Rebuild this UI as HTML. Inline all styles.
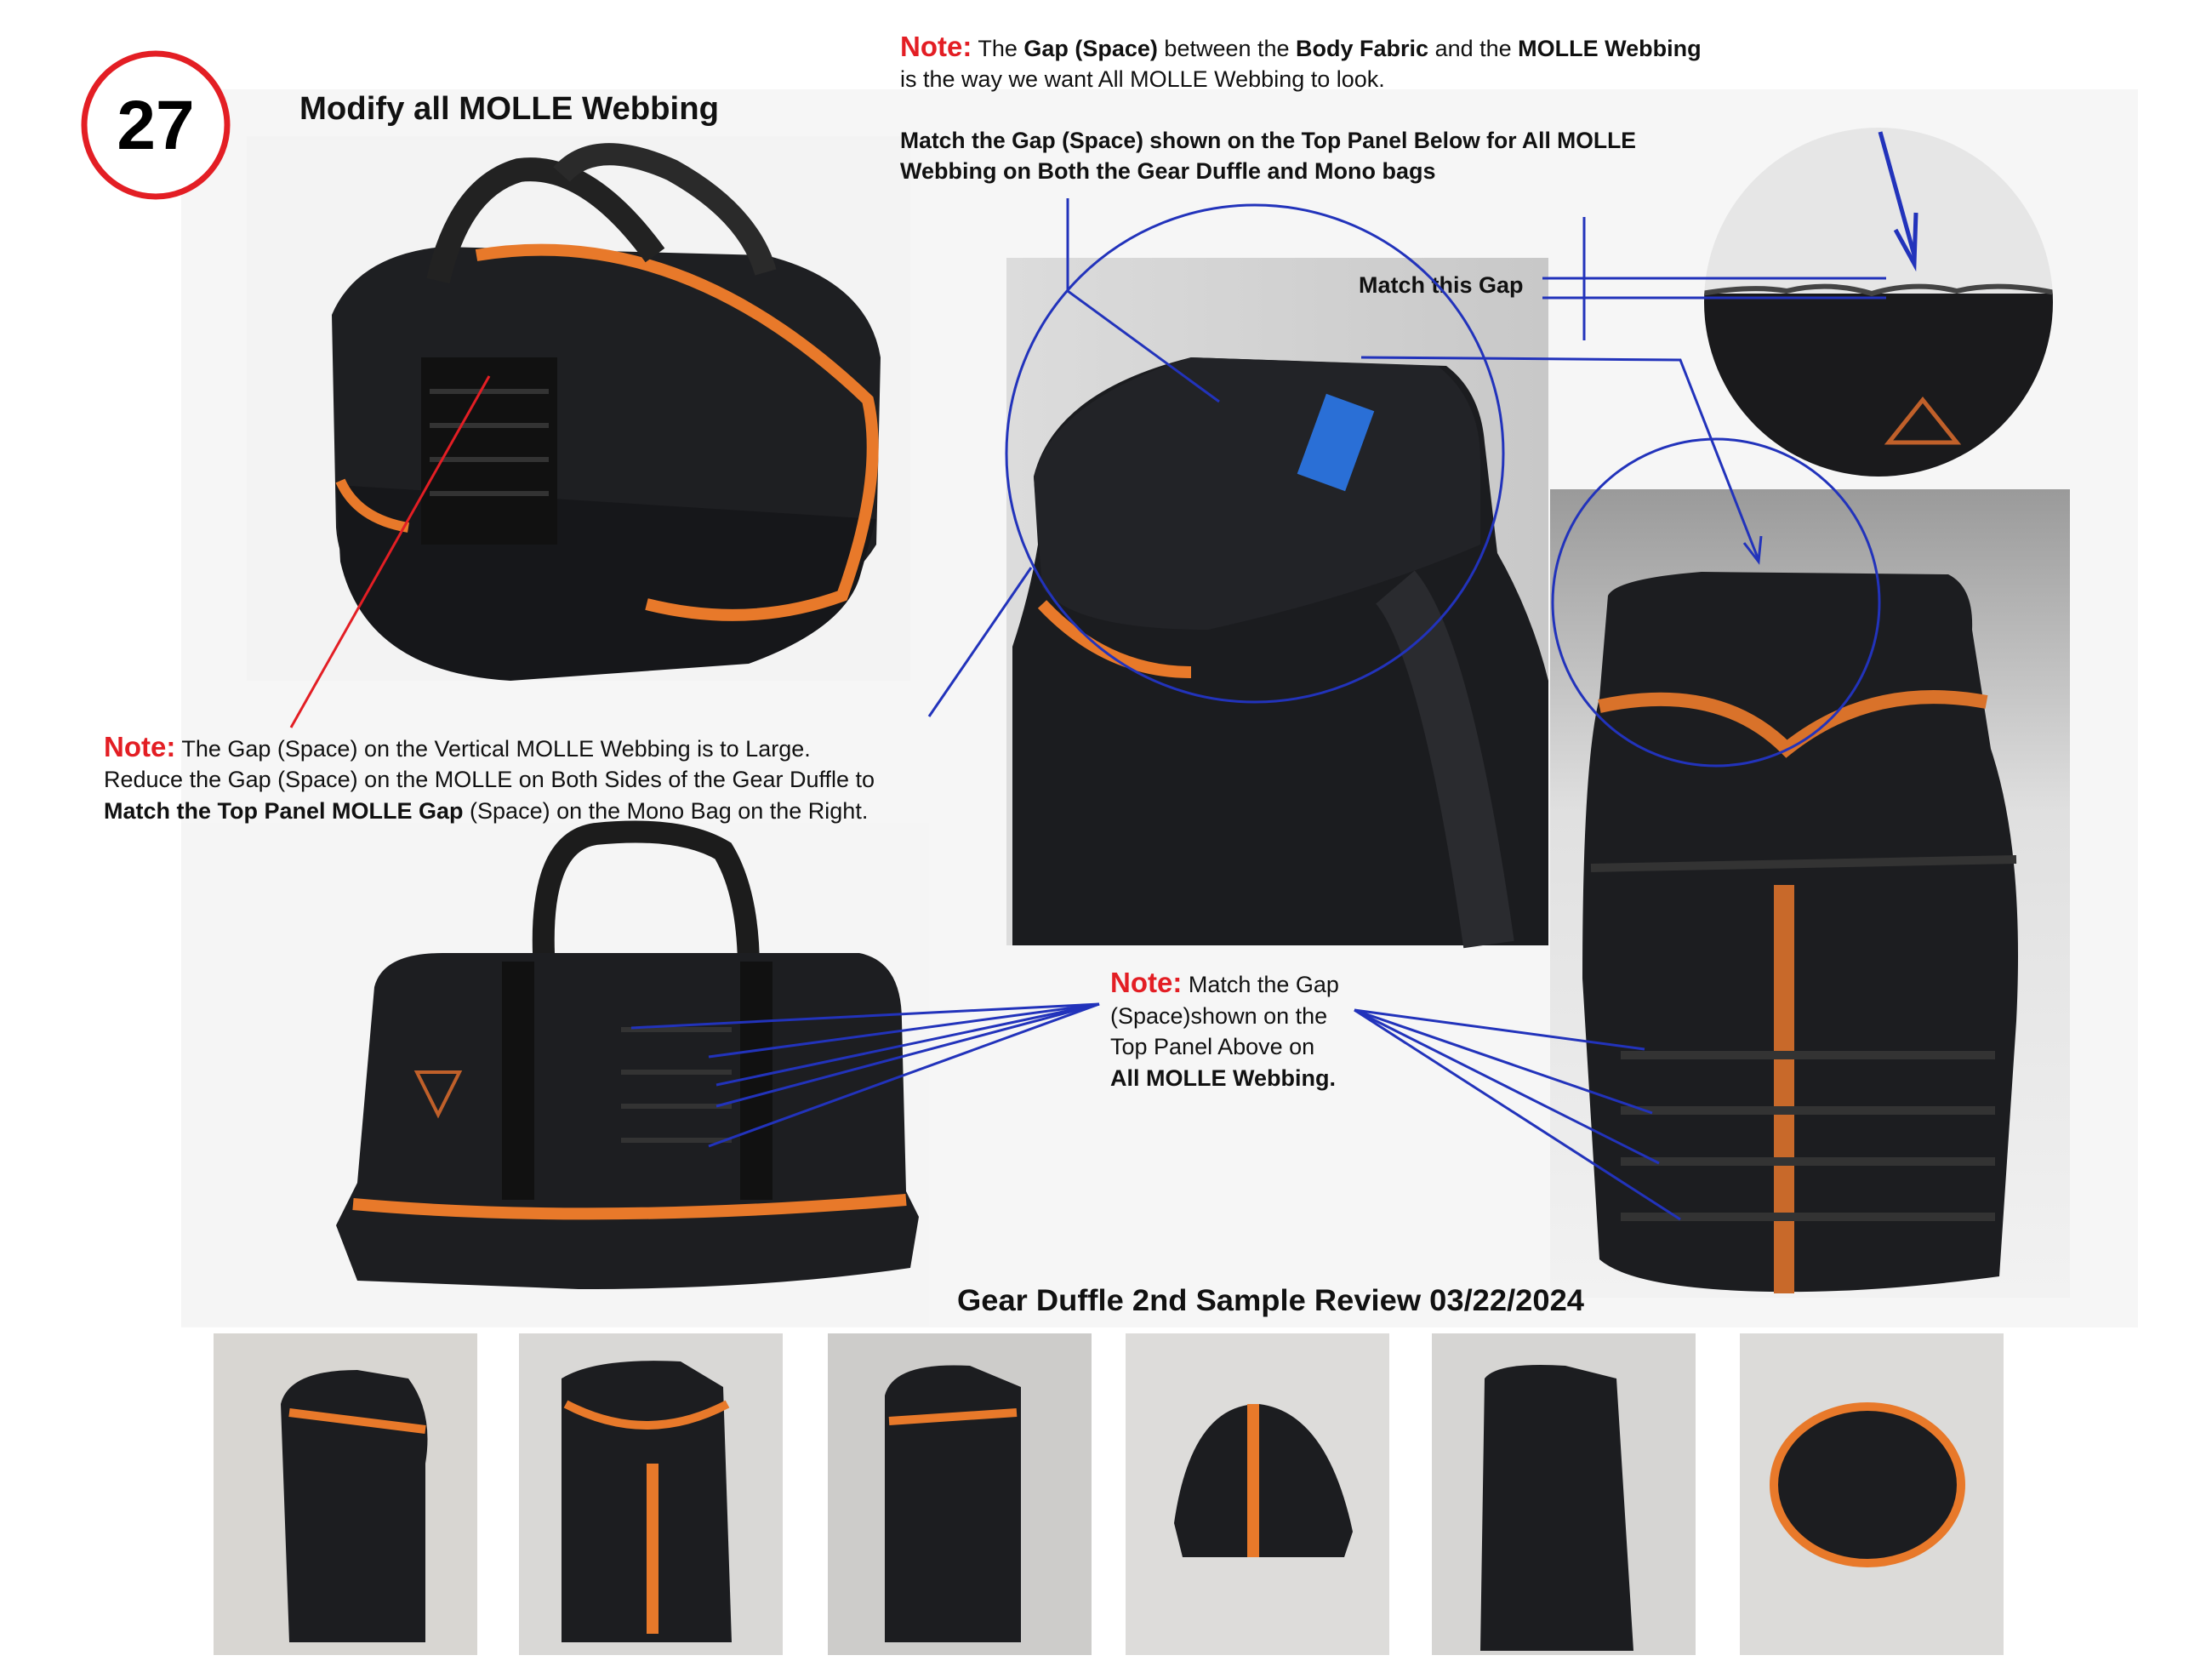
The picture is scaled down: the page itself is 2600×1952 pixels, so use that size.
<!DOCTYPE html>
<html><head><meta charset="utf-8"><style>
html,body{margin:0;padding:0;background:#fff}
svg{display:block}
text{font-family:"Liberation Sans",sans-serif}
</style></head><body>
<svg width="2600" height="1952" viewBox="0 0 2600 1952" xmlns="http://www.w3.org/2000/svg">
<defs>
<linearGradient id="bg2" x1="0" y1="0" x2="0" y2="1"><stop offset="0" stop-color="#9a9a9a"/><stop offset=".4" stop-color="#e0e0e0"/><stop offset="1" stop-color="#f2f2f2"/></linearGradient>
<linearGradient id="bg3" x1="0" y1="0" x2="1" y2="0"><stop offset="0" stop-color="#dcdcdc"/><stop offset="1" stop-color="#c8c8c8"/></linearGradient>
</defs>
<rect width="2600" height="1952" fill="#fff"/>
<rect x="213" y="105" width="2300" height="1455" fill="#f6f6f6"/>
<!-- top-left duffle -->
<rect x="290" y="160" width="780" height="640" fill="#f3f3f3"/>
<path d="M390 370 Q420 300 520 290 L900 300 Q1020 330 1035 420 L1030 640 Q980 720 860 730 L470 720 Q400 690 395 620 Z" fill="#1e1f22"/>
<path d="M395 570 L400 660 Q430 790 600 800 L880 780 Q990 740 1010 680 L1030 610" fill="#16171a"/>
<path d="M560 300 Q800 260 1020 470 Q1040 560 990 700 Q880 740 760 710" fill="none" stroke="#e8792a" stroke-width="14"/>
<path d="M400 565 Q420 610 480 620" fill="none" stroke="#e8792a" stroke-width="12"/>
<path d="M515 330 Q540 220 610 200 Q690 190 770 300" fill="none" stroke="#222" stroke-width="28"/>
<path d="M660 205 Q700 160 790 200 Q880 250 900 320" fill="none" stroke="#2a2a2a" stroke-width="26"/>
<rect x="495" y="420" width="160" height="220" fill="#111"/>
<g stroke="#333" stroke-width="6"><line x1="505" y1="460" x2="645" y2="460"/><line x1="505" y1="500" x2="645" y2="500"/><line x1="505" y1="540" x2="645" y2="540"/><line x1="505" y1="580" x2="645" y2="580"/></g>
<!-- middle photo -->
<rect x="1183" y="303" width="637" height="808" fill="url(#bg3)"/>
<path d="M1215 560 Q1240 460 1400 420 L1700 430 Q1740 460 1745 520 L1760 650 Q1800 720 1820 800 L1820 1111 L1190 1111 L1190 760 Q1210 700 1220 640 Z" fill="#1b1c1f"/>
<path d="M1215 560 Q1240 470 1400 420 L1690 430 Q1740 470 1740 540 L1740 640 Q1600 700 1420 740 Q1260 740 1225 690 Z" fill="#222327"/>
<path d="M1225 710 Q1300 790 1400 790" fill="none" stroke="#e8792a" stroke-width="14"/>
<rect x="1540" y="470" width="60" height="100" fill="#2a6fd6" transform="rotate(20 1570 520)"/>
<path d="M1640 690 Q1700 760 1750 1110" stroke="#2a2b2f" stroke-width="60" fill="none"/>
<!-- right backpack -->
<rect x="1822" y="575" width="611" height="950" fill="url(#bg2)"/>
<path d="M1890 700 Q1900 680 2000 672 L2290 675 Q2320 690 2318 740 L2340 880 Q2380 1000 2370 1200 L2350 1500 Q2200 1520 2080 1518 Q1920 1515 1880 1480 L1860 1150 Q1860 900 1880 820 Z" fill="#1c1d20"/>
<path d="M1880 830 Q2020 800 2100 880 Q2200 800 2335 825" fill="none" stroke="#d9722a" stroke-width="16"/>
<rect x="2085" y="1040" width="24" height="480" fill="#c8692a"/>
<g stroke="#333" stroke-width="10"><line x1="1905" y1="1240" x2="2345" y2="1240"/><line x1="1905" y1="1305" x2="2345" y2="1305"/><line x1="1905" y1="1365" x2="2345" y2="1365"/><line x1="1905" y1="1430" x2="2345" y2="1430"/><line x1="1870" y1="1020" x2="2370" y2="1010"/></g>
<!-- zoom circle -->
<clipPath id="zc"><circle cx="2208" cy="355" r="205"/></clipPath>
<g clip-path="url(#zc)"><rect x="2000" y="150" width="420" height="410" fill="#e6e6e6"/><rect x="2000" y="345" width="420" height="220" fill="#1a1a1c"/><path d="M2000 345 Q2060 335 2100 342 Q2150 330 2200 345 Q2250 330 2300 342 Q2350 330 2420 345" stroke="#444" stroke-width="6" fill="none"/><path d="M2220 520 L2260 470 L2300 520 Z" fill="none" stroke="#c0602a" stroke-width="5"/></g>
<path d="M2210 155 L2250 300" stroke="#2233bb" stroke-width="5" fill="none"/><path d="M2228 270 L2250 310 L2252 250" stroke="#2233bb" stroke-width="5" fill="none"/>
<!-- bottom duffle -->
<rect x="213" y="967" width="879" height="591" fill="#f5f5f5"/>
<path d="M640 1140 Q630 990 700 980 Q800 970 850 1000 Q880 1050 880 1140" fill="none" stroke="#1c1c1c" stroke-width="26"/>
<path d="M440 1160 Q450 1120 520 1120 L1010 1120 Q1060 1130 1060 1200 L1065 1400 L1080 1430 L1070 1490 Q900 1515 680 1515 L420 1505 L395 1440 L420 1390 Z" fill="#1d1e21"/>
<path d="M415 1415 Q700 1440 1065 1410" stroke="#e8792a" stroke-width="14" fill="none"/>
<rect x="590" y="1130" width="38" height="280" fill="#111"/><rect x="870" y="1130" width="38" height="280" fill="#111"/>
<g stroke="#333" stroke-width="6"><line x1="730" y1="1210" x2="860" y2="1210"/><line x1="730" y1="1260" x2="860" y2="1260"/><line x1="730" y1="1300" x2="860" y2="1300"/><line x1="730" y1="1340" x2="860" y2="1340"/></g>
<path d="M490 1260 L540 1260 L515 1310 Z" fill="none" stroke="#c0602a" stroke-width="4"/>
<!-- thumbnails -->
<g>
<rect x="251" y="1567" width="310" height="378" fill="#d8d6d2"/><rect x="610" y="1567" width="310" height="378" fill="#d9d8d6"/><rect x="973" y="1567" width="310" height="378" fill="#cdccca"/><rect x="1323" y="1567" width="310" height="378" fill="#dddcda"/><rect x="1683" y="1567" width="310" height="378" fill="#d6d5d3"/><rect x="2045" y="1567" width="310" height="378" fill="#dcdbd9"/>
<path d="M330 1650 Q340 1610 420 1610 L480 1620 Q510 1660 500 1720 L500 1930 L340 1930 Z" fill="#1c1d20"/><path d="M340 1660 L500 1680" stroke="#e8792a" stroke-width="10"/>
<path d="M660 1620 Q700 1595 800 1600 L850 1630 L860 1930 L660 1930 Z" fill="#1c1d20"/><path d="M665 1650 Q760 1700 855 1650" stroke="#e8792a" stroke-width="10" fill="none"/><rect x="760" y="1720" width="14" height="200" fill="#e8792a"/>
<path d="M1040 1640 Q1050 1600 1140 1605 L1200 1630 L1200 1930 L1040 1930 Z" fill="#1c1d20"/><path d="M1045 1670 L1195 1660" stroke="#e8792a" stroke-width="10"/>
<path d="M1380 1790 Q1400 1650 1480 1650 Q1560 1660 1590 1800 L1580 1830 L1390 1830 Z" fill="#1c1d20"/><rect x="1466" y="1650" width="14" height="180" fill="#e8792a"/>
<path d="M1745 1620 Q1760 1600 1840 1605 L1900 1620 L1920 1940 L1740 1940 Z" fill="#1c1d20"/>
<ellipse cx="2195" cy="1745" rx="110" ry="92" fill="#1c1d20" stroke="#e8792a" stroke-width="10"/>
</g>
<!-- circle 27 -->
<circle cx="183" cy="147" r="84" fill="#fff" stroke="#e31e24" stroke-width="7"/>
<text x="183" y="175" text-anchor="middle" font-size="82" font-weight="bold" fill="#000">27</text>
<text x="352" y="140" font-size="38" font-weight="bold" fill="#111" textLength="493" lengthAdjust="spacingAndGlyphs">Modify all MOLLE Webbing</text>
<!-- top notes -->
<text x="1058" y="66" font-size="27" fill="#111"><tspan fill="#e31e24" font-weight="bold" font-size="33">Note:</tspan> The <tspan font-weight="bold">Gap (Space)</tspan> between the <tspan font-weight="bold">Body Fabric</tspan> and the <tspan font-weight="bold">MOLLE Webbing</tspan></text>
<text x="1058" y="102" font-size="27" fill="#111">is the way we want All MOLLE Webbing to look.</text>
<text x="1058" y="174" font-size="27" font-weight="bold" fill="#111" textLength="865" lengthAdjust="spacingAndGlyphs">Match the Gap (Space) shown on the Top Panel Below for All MOLLE</text>
<text x="1058" y="210" font-size="27" font-weight="bold" fill="#111">Webbing on Both the Gear Duffle and Mono bags</text>
<text x="1597" y="344" font-size="27" font-weight="bold" fill="#111">Match this Gap</text>
<!-- left note -->
<text x="122" y="889" font-size="27" fill="#111"><tspan fill="#e31e24" font-weight="bold" font-size="33">Note:</tspan> The Gap (Space) on the Vertical MOLLE Webbing is to Large.</text>
<text x="122" y="925" font-size="27" fill="#111">Reduce the Gap (Space) on the MOLLE on Both Sides of the Gear Duffle to</text>
<text x="122" y="962" font-size="27" fill="#111"><tspan font-weight="bold">Match the Top Panel MOLLE Gap</tspan> (Space) on the Mono Bag on the Right.</text>
<!-- middle note -->
<text x="1305" y="1166" font-size="27" fill="#111"><tspan fill="#e31e24" font-weight="bold" font-size="33">Note:</tspan> Match the Gap</text>
<text x="1305" y="1203" font-size="27" fill="#111">(Space)shown on the</text>
<text x="1305" y="1239" font-size="27" fill="#111">Top Panel Above on</text>
<text x="1305" y="1276" font-size="27" font-weight="bold" fill="#111">All MOLLE Webbing.</text>
<text x="1125" y="1540" font-size="35" font-weight="bold" fill="#111" textLength="737" lengthAdjust="spacingAndGlyphs">Gear Duffle 2nd Sample Review 03/22/2024</text>
<!-- connectors -->
<line x1="342" y1="855" x2="575" y2="442" stroke="#e31e24" stroke-width="3"/>
<g stroke="#2233bb" stroke-width="3" fill="none">
<polyline points="1255,233 1255,342 1433,472"/>
<circle cx="1475" cy="533" r="292"/>
<line x1="1212" y1="667" x2="1092" y2="842"/>
<line x1="1813" y1="327" x2="2217" y2="327"/>
<line x1="1813" y1="350" x2="2217" y2="350"/>
<line x1="1862" y1="255" x2="1862" y2="400"/>
<polyline points="1600,420 1975,423 2067,658"/>
<path d="M2050 638 L2067 660 L2070 630"/>
<circle cx="2017" cy="708" r="192"/>
<line x1="1292" y1="1180" x2="742" y2="1208"/>
<line x1="1292" y1="1180" x2="833" y2="1242"/>
<line x1="1292" y1="1180" x2="842" y2="1275"/>
<line x1="1292" y1="1180" x2="842" y2="1300"/>
<line x1="1292" y1="1180" x2="833" y2="1347"/>
<line x1="1592" y1="1187" x2="1933" y2="1233"/>
<line x1="1592" y1="1187" x2="1942" y2="1308"/>
<line x1="1592" y1="1187" x2="1950" y2="1367"/>
<line x1="1592" y1="1187" x2="1975" y2="1433"/>
</g>
</svg>
</body></html>
